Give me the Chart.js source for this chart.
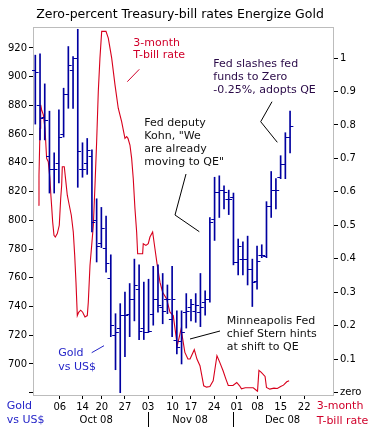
<!DOCTYPE html>
<html><head><meta charset="utf-8">
<script src="https://cdn.jsdelivr.net/npm/chart.js@4.4.0/dist/chart.umd.min.js"></script>
<style>html,body{margin:0;padding:0;background:#fff;} canvas{display:block;}</style>
</head><body>
<canvas id="c" width="373" height="429"></canvas>
<script>
// Gold vs US$ daily OHLC (one bar per trading day, from late Sep 2008)
const goldHigh  = [915,916,895,876,847,877,892,921,914,933,854,857,849,815,809,803,776,735,742,750,756,773,769,757,759,768,769,763,755,768,737,737,749,745,749,763,751,802,830,831,824,821,819,787,785,789,773,782,783,813,834,829,845,861,876];
const goldLow   = [867,856,856,819,819,826,858,878,878,823,830,832,792,771,781,764,719,696,680,705,719,730,717,717,722,727,736,728,735,719,707,700,725,730,729,726,734,743,786,802,808,804,769,762,762,755,740,752,774,774,802,808,829,829,847];
const goldOpen  = [905,880,872,845,836,840,860,888,905,913,836,840,845,800,784,781,760,720,725,734,735,745,752,725,722,735,745,740,745,731,717,716,736,740,737,736,743,745,801,820,821,815,816,771,773,773,766,758,776,775,810,821,830,839,858];
const goldClose = [903,871,870,836,836,858,888,908,913,848,836,849,799,782,795,770,727,722,734,734,745,755,723,722,723,745,741,737,745,745,712,722,737,742,741,740,745,799,820,821,820,815,771,782,773,766,757,772,776,810,821,821,839,858,866];

// 3-month T-bill rate (%), position in trading-day units
const rateX = [0.64,0.78,1.0,1.14,1.35,1.7,2.05,2.4,2.75,3.1,3.3,3.47,3.68,3.96,4.24,4.66,5.08,5.38,5.59,5.72,6.14,6.44,6.78,7.2,7.63,8.05,8.35,8.62,8.9,9.19,9.62,10.04,10.53,11.02,11.23,11.59,11.95,12.3,12.65,13.0,13.35,13.7,14.07,14.4,14.98,15.47,16.19,16.89,17.58,18.3,19.0,19.36,19.64,20.06,20.42,20.76,21.12,21.48,21.69,22.19,22.75,22.88,23.45,23.94,24.3,24.87,25.36,25.85,26.42,26.99,27.84,28.54,29.24,30.1,30.9,31.7,32.35,32.8,33.7,34.26,34.9,35.7,36.3,37.0,37.7,38.5,39.1,39.8,40.4,40.9,41.9,42.7,43.3,43.7,44.5,45.1,46.2,46.9,47.1,47.4,47.9,48.7,49.0,49.7,50.6,51.3,52.0,52.6,53.3,53.8];
const rateY = [0.56,0.65,0.79,0.86,0.845,0.83,0.79,0.70,0.69,0.64,0.59,0.555,0.51,0.47,0.465,0.475,0.50,0.58,0.62,0.675,0.675,0.635,0.59,0.56,0.53,0.48,0.41,0.33,0.23,0.24,0.246,0.24,0.226,0.23,0.27,0.38,0.44,0.50,0.62,0.75,0.90,1.0,1.08,1.08,1.08,1.06,1.0,0.92,0.85,0.81,0.76,0.765,0.76,0.74,0.70,0.64,0.55,0.48,0.415,0.415,0.415,0.445,0.44,0.445,0.465,0.48,0.43,0.38,0.33,0.30,0.28,0.24,0.23,0.14,0.19,0.12,0.10,0.10,0.128,0.10,0.08,0.02,0.016,0.018,0.035,0.11,0.09,0.065,0.04,0.021,0.021,0.03,0.02,0.011,0.014,0.014,0.014,0.006,0.004,0.066,0.06,0.048,0.015,0.01,0.013,0.012,0.018,0.022,0.032,0.035];

// axes
const xTickPos = [5.2,10,14.1,19,23.9,29.1,33,37.9,42.7,47.1,52,57];
const xTickLabels = ['06','14','20','27','03','10','17','24','01','08','15','22'];
const goldTicks = [680,700,720,740,760,780,800,820,840,860,880,900,920];
const rateTicks = [0,0.1,0.2,0.3,0.4,0.5,0.6,0.7,0.8,0.9,1];
const monthLabels = ['Oct 08','Nov 08','Dec 08'];
const monthCenters = [12.9,32.8,52.4];
const monthSeps = [23.9,42.0];

const RED = '#d8001c';
const BLUE = '#0000a0';
const FONT = '"DejaVu Sans", Verdana, sans-serif';

const notes = [
  {lines:['3-month','T-bill rate'], x:133.3, y:46, lh:12.3, color:'#d0002a'},
  {lines:['Fed slashes fed','funds to Zero','-0.25%, adopts QE'], x:213.3, y:66.7, lh:13, color:'#2a0a48'},
  {lines:['Fed deputy','Kohn, "We','are already','moving to QE"'], x:144.3, y:125.5, lh:13, color:'#111'},
  {lines:['Minneapolis Fed','chief Stern hints','at shift to QE'], x:226.7, y:323.5, lh:13.3, color:'#111'},
  {lines:['Gold','vs US$'], x:58.3, y:356.3, lh:13.7, color:'#2525c8'},
  {lines:['Gold','vs US$'], x:6.7, y:409.3, lh:14, color:'#2525c8'},
  {lines:['3-month','T-bill rate'], x:316.7, y:408.5, lh:15, color:'#d0002a'}
];
const leaders = [
  {pts:[[139.3,69.3],[127.3,81.7]], color:'#d0002a'},
  {pts:[[186,174],[175,215],[199.3,231.7]], color:'#000'},
  {pts:[[272,101.7],[260.7,121.7],[277.3,142.3]], color:'#000'},
  {pts:[[190,339],[220,331]], color:'#000'},
  {pts:[[91.7,352.7],[104,345.7]], color:'#2525c8'}
];

const deco = {
  id:'deco',
  beforeDraw(chart){
    const c = chart.ctx; c.save(); c.fillStyle='#fff'; c.fillRect(0,0,chart.width,chart.height); c.restore();
  },
  beforeDatasetsDraw(chart){
    const a = chart.chartArea, c = chart.ctx;
    c.save(); c.strokeStyle='#bcbcbc'; c.lineWidth=1;
    c.strokeRect(a.left+0.5, a.top+0.5, a.right-a.left, a.bottom-a.top);
    c.restore();
  },
  afterDatasetsDraw(chart){
    const c = chart.ctx, xs = chart.scales.x, ys = chart.scales.y;
    c.save(); c.strokeStyle=BLUE; c.lineWidth=1;
    for(let i=0;i<goldOpen.length;i++){
      const x = xs.getPixelForValue(i);
      const yo = Math.round(ys.getPixelForValue(goldOpen[i]))+0.5;
      const yc = Math.round(ys.getPixelForValue(goldClose[i]))+0.5;
      c.beginPath(); c.moveTo(x-3.3,yo); c.lineTo(x,yo); c.stroke();
      c.beginPath(); c.moveTo(x,yc); c.lineTo(x+3.3,yc); c.stroke();
    }
    c.restore();
  },
  afterDraw(chart){
    const c = chart.ctx, xs = chart.scales.x;
    c.save();
    c.font = '12.5px '+FONT; c.fillStyle='#000'; c.textAlign='center'; c.textBaseline='alphabetic';
    c.fillText('Zero-percent Treasury-bill rates Energize Gold', 180, 17.5);
    c.font = '11px '+FONT; c.textAlign='left';
    notes.forEach(n=>{ c.fillStyle=n.color; n.lines.forEach((l,k)=>c.fillText(l, n.x, n.y + k*n.lh)); });
    c.lineWidth=1;
    leaders.forEach(L=>{ c.strokeStyle=L.color; c.beginPath(); L.pts.forEach((p,k)=> k?c.lineTo(p[0],p[1]):c.moveTo(p[0],p[1])); c.stroke(); });
    c.font = '10px '+FONT; c.fillStyle='#000'; c.textAlign='center';
    monthLabels.forEach((m,k)=> c.fillText(m, xs.getPixelForValue(monthCenters[k]), 423.3));
    c.strokeStyle='#000';
    monthSeps.forEach(v=>{ const x=Math.round(xs.getPixelForValue(v))+0.5; c.beginPath(); c.moveTo(x,412); c.lineTo(x,427); c.stroke(); });
    c.restore();
  }
};

Chart.defaults.font.family = FONT;
Chart.defaults.font.size = 10;
Chart.defaults.color = '#000';

const tickGrid = (len)=>({drawOnChartArea:false, drawTicks:true, tickLength:len, color:'#000', lineWidth:1, offset:false});

new Chart(document.getElementById('c'), {
  type:'bar',
  data:{ datasets:[
    { type:'bar', label:'Gold vs US$', data: goldHigh.map((h,i)=>({x:i, y:[goldLow[i], h]})),
      backgroundColor:BLUE, borderWidth:0, barThickness:1, xAxisID:'x', yAxisID:'y', order:0 },
    { type:'line', label:'3-month T-bill rate', data: rateX.map((x,i)=>({x:x, y:rateY[i]})),
      borderColor:RED, borderWidth:1.1, pointRadius:0, tension:0, fill:false, xAxisID:'x', yAxisID:'y2', order:1 }
  ]},
  options:{
    responsive:false, animation:false, devicePixelRatio:1,
    layout:{padding:{top:27,left:0,right:0,bottom:0}},
    plugins:{legend:{display:false}, tooltip:{enabled:false}, title:{display:false}},
    scales:{
      x:{ type:'linear', position:'bottom', min:-0.49, max:63.1, offset:false,
          grid:tickGrid(4), border:{display:false},
          ticks:{autoSkip:false, maxRotation:0, padding:2, callback:(v,i)=>xTickLabels[i]},
          afterBuildTicks:(s)=>{ s.ticks = xTickPos.map(v=>({value:v})); },
          afterFit:(s)=>{ s.height = 34; } },
      y:{ type:'linear', position:'left', min:678.4, max:934.6,
          grid:tickGrid(4), border:{display:false},
          ticks:{padding:2, callback:(v)=> v===680 ? '' : String(v)},
          afterBuildTicks:(s)=>{ s.ticks = goldTicks.map(v=>({value:v})); },
          afterFit:(s)=>{ s.width = 33; } },
      y2:{ type:'linear', position:'right', min:-0.0075, max:1.093,
          grid:tickGrid(5), border:{display:false},
          ticks:{padding:2, callback:(v)=> v===0 ? 'zero' : String(v)},
          afterBuildTicks:(s)=>{ s.ticks = rateTicks.map(v=>({value:v})); },
          afterFit:(s)=>{ s.width = 40; } }
    }
  },
  plugins:[deco]
});
</script>
</body></html>
